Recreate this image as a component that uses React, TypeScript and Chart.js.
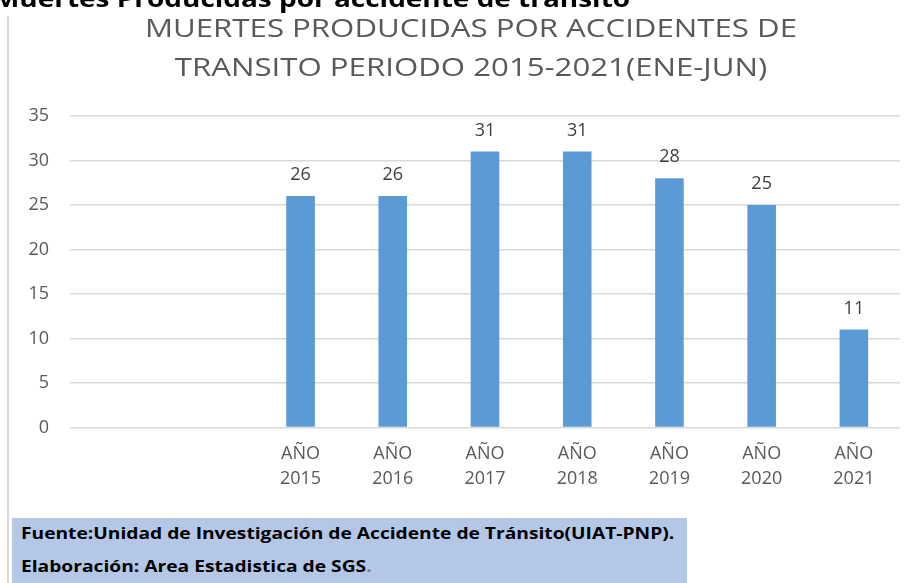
import React, { useEffect, useRef } from 'react';
import { Chart, registerables } from 'chart.js';

Chart.register(...registerables);

// ---- data ----
const years: string[] = ['', '', '2015', '2016', '2017', '2018', '2019', '2020', '2021'];
const deaths: (number | null)[] = [null, null, 26, 26, 31, 31, 28, 25, 11];
const yMin = 0;
const yMax = 35;
const yStep = 5;
const titleLines: string[] = ['MUERTES PRODUCIDAS POR ACCIDENTES DE', 'TRANSITO PERIODO 2015-2021(ENE-JUN)'];
const headerText = 'Muertes Producidas por accidente de tránsito';
const sourceLine1 = 'Fuente:Unidad de Investigación de Accidente de Tránsito(UIAT-PNP).';
const sourceLine2 = 'Elaboración: Area Estadistica de SGS';

const FONT = "'Open Sans', 'Noto Sans', sans-serif";
const GRAY = '#595959';

const valueLabels = {
  id: 'valueLabels',
  afterDatasetsDraw(chart: any) {
    const ctx = chart.ctx;
    const meta = chart.getDatasetMeta(0);
    const data = chart.data.datasets[0].data;
    ctx.save();
    ctx.font = `18px ${FONT}`;
    ctx.fillStyle = '#404040';
    ctx.textAlign = 'center';
    ctx.textBaseline = 'alphabetic';
    meta.data.forEach((bar: any, i: number) => {
      const v = data[i];
      if (v === null || v === undefined) return;
      ctx.fillText(String(v), bar.x, bar.y - 16);
    });
    ctx.restore();
  },
};

// Title drawn slightly widened (the reference text is horizontally stretched)
const stretchedTitle = {
  id: 'stretchedTitle',
  afterDraw(chart: any) {
    const ctx = chart.ctx;
    ctx.save();
    ctx.font = `26px ${FONT}`;
    ctx.fillStyle = GRAY;
    ctx.textAlign = 'center';
    ctx.textBaseline = 'middle';
    titleLines.forEach((t, i) => {
      ctx.save();
      ctx.translate(471, 29.9 + i * 38.6);
      ctx.scale(1.2, 1);
      ctx.fillText(t, 0, 0);
      ctx.restore();
    });
    ctx.restore();
  },
};

export default function App() {
  const canvasRef = useRef<HTMLCanvasElement>(null);

  useEffect(() => {
    if (!canvasRef.current) return;
    const chart = new Chart(canvasRef.current, {
      type: 'bar',
      data: {
        labels: years.map((y) => (y ? ['AÑO', y] : '')),
        datasets: [
          {
            data: deaths,
            backgroundColor: '#5b9bd5',
            borderWidth: 0,
            categoryPercentage: 1,
            barPercentage: 0.31,
          },
        ],
      },
      options: {
        animation: false,
        responsive: false,
        devicePixelRatio: 1,
        layout: { padding: { left: 27, right: 13, top: 116, bottom: 78.5 } },
        plugins: {
          legend: { display: false },
          tooltip: { enabled: false },
          title: { display: false },
        },
        scales: {
          x: {
            grid: { display: false, drawTicks: false },
            border: { display: false },
            ticks: {
              color: GRAY,
              font: { family: FONT, size: 18, lineHeight: 25 / 18 },
              padding: 13.5,
              maxRotation: 0,
              autoSkip: false,
            },
          },
          y: {
            min: yMin,
            max: yMax,
            ticks: {
              stepSize: yStep,
              color: GRAY,
              font: { family: FONT, size: 18 },
              padding: 21,
            },
            grid: { color: '#d9d9d9', lineWidth: 1.5, drawTicks: false, tickLength: 0 },
            border: { display: false },
            afterFit: (axis: any) => {
              axis.width = 43;
            },
          },
        },
      },
      plugins: [valueLabels, stretchedTitle],
    });
    return () => chart.destroy();
  }, []);

  const stretch: React.CSSProperties = {
    position: 'absolute',
    transform: 'scaleX(1.2)',
    transformOrigin: 'left center',
    whiteSpace: 'nowrap',
  };

  return (
    <div
      style={{
        position: 'fixed',
        left: 0,
        top: 0,
        width: 913,
        height: 583,
        overflow: 'hidden',
        background: '#ffffff',
      }}
    >
      <canvas
        ref={canvasRef}
        width={913}
        height={583}
        style={{ position: 'absolute', left: 0, top: 0, width: 913, height: 583 }}
      />
      <div
        style={{
          ...stretch,
          left: -7,
          top: -12.7,
          fontFamily: FONT,
          fontWeight: 'bold',
          fontSize: 23.3,
          lineHeight: '23.3px',
          color: '#000',
        }}
      >
        {headerText}
      </div>
      <div
        style={{
          position: 'absolute',
          left: 7,
          top: 16,
          width: 2,
          height: 567,
          background: '#d9d9d9',
        }}
      />
      <div
        style={{
          position: 'absolute',
          left: 12,
          top: 518,
          width: 675,
          height: 65,
          background: '#b4c7e7',
          fontFamily: FONT,
          fontWeight: 'bold',
          fontSize: 16,
          lineHeight: '16px',
          color: '#000',
        }}
      >
        <div style={{ ...stretch, left: 9, top: 7.1 }}>{sourceLine1}</div>
        <div style={{ ...stretch, left: 9, top: 39.5 }}>
          {sourceLine2}
          <span style={{ color: '#7f7f7f' }}>.</span>
        </div>
      </div>
    </div>
  );
}
